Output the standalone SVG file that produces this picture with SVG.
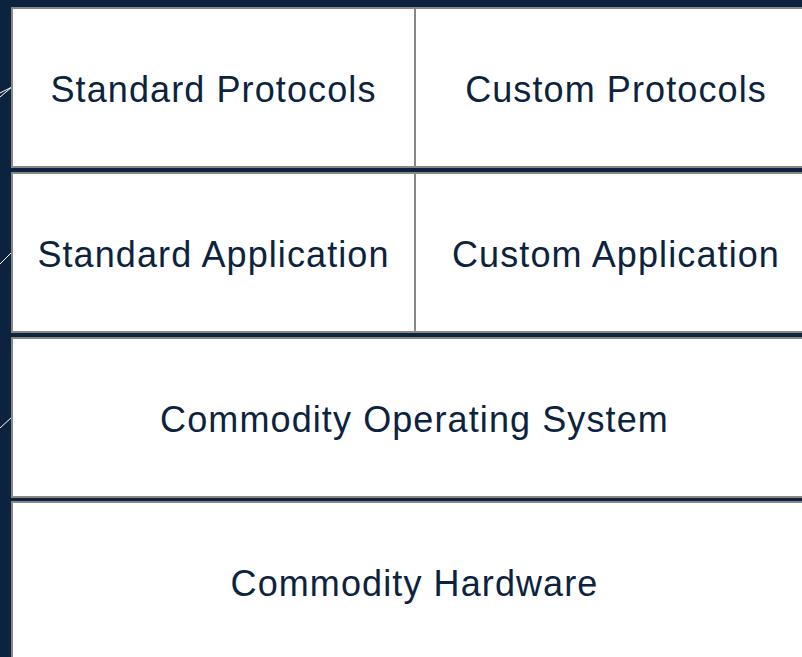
<svg xmlns="http://www.w3.org/2000/svg" width="802" height="657" viewBox="0 0 802 657">
<style>
.box{fill:#ffffff;stroke:#888888;stroke-width:2}
.lbl{font-family:"Liberation Sans",Arial,Helvetica,sans-serif;font-size:36px;letter-spacing:1.1px;fill:#0c2340;text-anchor:middle}
.ln{stroke:#ffffff;stroke-width:1;fill:none}
</style>
<rect x="0" y="0" width="802" height="657" fill="#0c2340"/>
<g id="connectors">
<line class="ln" x1="0" y1="93" x2="12" y2="87"/>
<line class="ln" x1="0" y1="97" x2="12" y2="87"/>
<line class="ln" x1="0" y1="264" x2="12" y2="252"/>
<line class="ln" x1="0" y1="428" x2="12" y2="417"/>
</g>
<g id="standard-protocols">
<rect class="box" x="12" y="8" width="403" height="159"/>
<text class="lbl" x="213.5" y="102">Standard Protocols</text>
</g>
<g id="custom-protocols">
<rect class="box" x="415" y="8" width="402" height="159"/>
<text class="lbl" x="616" y="102">Custom Protocols</text>
</g>
<g id="standard-application">
<rect class="box" x="12" y="173" width="403" height="159"/>
<text class="lbl" x="213.5" y="267">Standard Application</text>
</g>
<g id="custom-application">
<rect class="box" x="415" y="173" width="402" height="159"/>
<text class="lbl" x="616" y="267">Custom Application</text>
</g>
<g id="commodity-os">
<rect class="box" x="12" y="338" width="805" height="159"/>
<text class="lbl" x="414.5" y="432">Commodity Operating System</text>
</g>
<g id="commodity-hardware">
<rect class="box" x="12" y="502" width="805" height="165"/>
<text class="lbl" x="414.5" y="595.5">Commodity Hardware</text>
</g>
</svg>
